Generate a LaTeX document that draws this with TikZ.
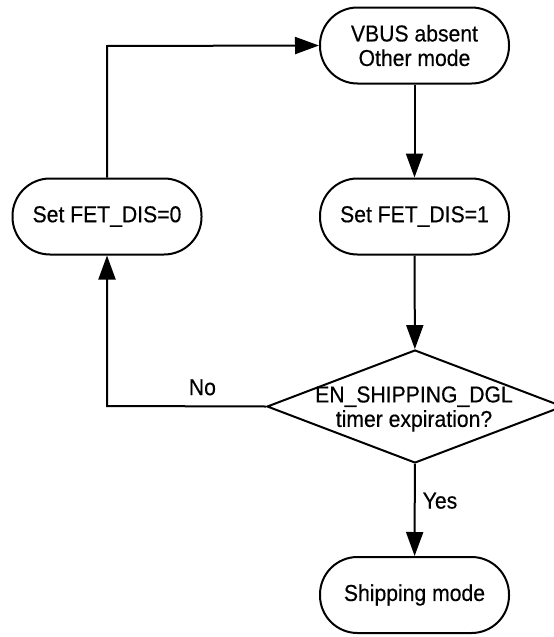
\documentclass[tikz,border=0pt]{standalone}
\usepackage{fontspec}
\setmainfont{Liberation Sans}[FakeStretch=0.92,FakeBold=0.4]
\usetikzlibrary{shapes.geometric,arrows.meta}
\begin{document}
\begin{tikzpicture}[x=1pt,y=-1pt,
  term/.style={draw,line width=2pt,rectangle,rounded corners=37.5pt,minimum width=189pt,minimum height=76pt,inner sep=0pt,align=center,font=\fontsize{23}{24.5}\selectfont},
  decision/.style={draw,line width=2pt,diamond,minimum width=296pt,minimum height=113pt,inner sep=0pt},
  txt/.style={align=center,font=\fontsize{23}{24.5}\selectfont,inner sep=0pt},
  conn/.style={line width=2pt,-{Triangle[length=24pt,width=17pt]}},
  line/.style={line width=2pt}]
\useasboundingbox (0,0) rectangle (554,637);
\node[term] (top) at (414.5,45.5) {VBUS absent\\Other mode};
\node[term] (fet1) at (414.5,216.5) {Set FET\_DIS=1};
\node[term] (fet0) at (107,216.5) {Set FET\_DIS=0};
\node[decision] (dec) at (415,406.5) {};
\node[txt] (dectxt) at (414,409) {EN\_SHIPPING\_DGL\\timer expiration?};
\node[term] (ship) at (414.5,595) {Shipping mode};
\coordinate (c1) at (107,406);
\coordinate (c2) at (107,46);
\draw[conn] (top) -- (fet1);
\draw[conn] (fet1) -- (dec);
\draw[conn] (dec) -- node[txt,right=7pt,pos=0.4] (yes) {Yes} (ship);
\draw[conn] (dec.west) -- node[txt,above=10pt,pos=0.4] (no) {No} (c1) -- (fet0.south);
\draw[conn] (fet0.north) -- (c2) -- (top.west);
\end{tikzpicture}
\end{document}
